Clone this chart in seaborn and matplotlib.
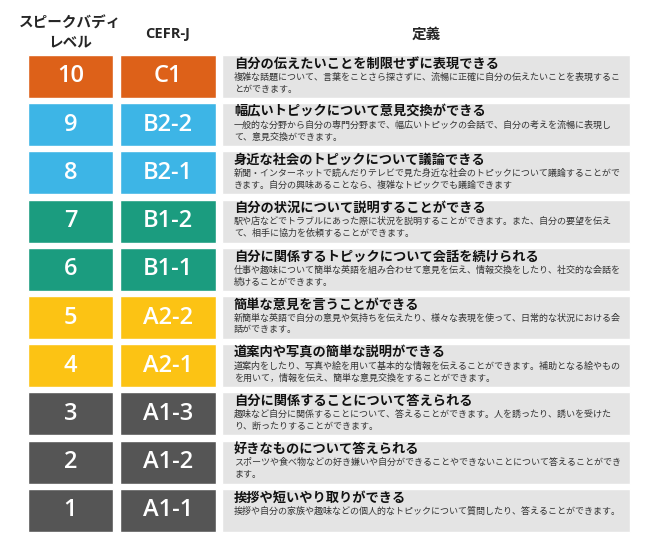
import matplotlib
matplotlib.use("Agg")
import matplotlib.pyplot as plt
import seaborn as sns

sns.set_style("white")
plt.rcParams['font.family'] = ['Noto Sans CJK JP', 'DejaVu Sans']

levels = ["10", "9", "8", "7", "6", "5", "4", "3", "2", "1"]
cefr = ["C1", "B2-2", "B2-1", "B1-2", "B1-1", "A2-2", "A2-1", "A1-3", "A1-2", "A1-1"]
colors = ["#DD6119", "#3DB5E6", "#3DB5E6", "#1B9C7F", "#1B9C7F",
          "#FCC314", "#FCC314", "#555555", "#555555", "#555555"]
titles = [
    "自分の伝えたいことを制限せずに表現できる",
    "幅広いトピックについて意見交換ができる",
    "身近な社会のトピックについて議論できる",
    "自分の状況について説明することができる",
    "自分に関係するトピックについて会話を続けられる",
    "簡単な意見を言うことができる",
    "道案内や写真の簡単な説明ができる",
    "自分に関係することについて答えられる",
    "好きなものについて答えられる",
    "挨拶や短いやり取りができる",
]
bodies = [
    "複雑な話題について、言葉をことさら探さずに、流暢に正確に自分の伝えたいことを表現するこ\nとができます。",
    "一般的な分野から自分の専門分野まで、幅広いトピックの会話で、自分の考えを流暢に表現し\nて、意見交換ができます。",
    "新聞・インターネットで読んだりテレビで見た身近な社会のトピックについて議論することがで\nきます。自分の興味あることなら、複雑なトピックでも議論できます",
    "駅や店などでトラブルにあった際に状況を説明することができます。また、自分の要望を伝え\nて、相手に協力を依頼することができます。",
    "仕事や趣味について簡単な英語を組み合わせて意見を伝え、情報交換をしたり、社交的な会話を\n続けることができます。",
    "新簡単な英語で自分の意見や気持ちを伝えたり、様々な表現を使って、日常的な状況における会\n話ができます。",
    "道案内をしたり、写真や絵を用いて基本的な情報を伝えることができます。補助となる絵やもの\nを用いて，情報を伝え、簡単な意見交換をすることができます。",
    "趣味など自分に関係することについて、答えることができます。人を誘ったり、誘いを受けた\nり、断ったりすることができます。",
    "スポーツや食べ物などの好き嫌いや自分ができることやできないことについて答えることができ\nます。",
    "挨拶や自分の家族や趣味などの個人的なトピックについて質問したり、答えることができます。",
]
headers = ["スピークバディ\nレベル", "CEFR-J", "定義"]

fig = plt.figure(figsize=(6.5, 5.43), dpi=100)
ax = fig.add_axes([0, 0, 1, 1])
ax.set_xlim(0, 650)
ax.set_ylim(543, 0)
ax.axis("off")

pitch = 48.2
y0 = 76.5
ys = [y0 + i * pitch for i in range(len(levels))]
h = 43

ax.barh(ys, 85, left=28, height=h, color=colors)
ax.barh(ys, 96, left=120, height=h, color=colors)
ax.barh(ys, 408, left=222, height=h, color="#E4E4E4")

for y, lv, cf, t, b in zip(ys, levels, cefr, titles, bodies):
    ax.text(70.5, y, lv, ha="center", va="center", color="white",
            fontsize=17, fontweight="semibold", family=["Open Sans", "DejaVu Sans"])
    ax.text(168, y, cf, ha="center", va="center", color="white",
            fontsize=17, fontweight="semibold", family=["Open Sans", "DejaVu Sans"])
    ax.text(234, y - 13, t, ha="left", va="center", color="#111111",
            fontsize=9.5, fontweight="bold")
    ax.text(234, y - 4, b, ha="left", va="top", color="#333333",
            fontsize=6.5, linespacing=1.4)

ax.text(70.5, 32, headers[0], ha="center", va="center", fontsize=10.5,
        fontweight="bold", linespacing=1.2)
ax.text(168, 34, headers[1], ha="center", va="center", fontsize=10.5,
        fontweight="bold", family=["Open Sans", "DejaVu Sans"])
ax.text(426, 34, headers[2], ha="center", va="center", fontsize=10.5,
        fontweight="bold")

fig.savefig("out.png", dpi=100, facecolor="white")
